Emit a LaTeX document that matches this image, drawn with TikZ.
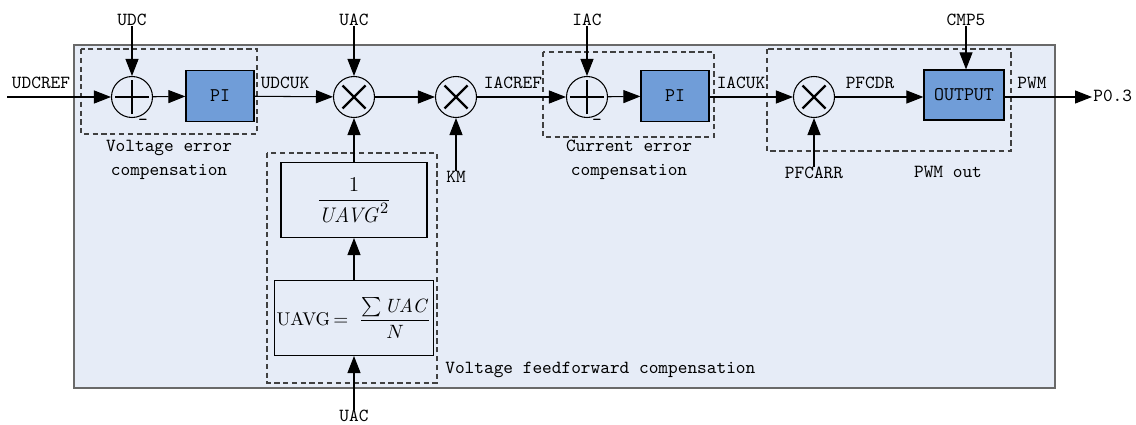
\documentclass[tikz,border=0pt]{standalone}
\usepackage{amsmath}
\usetikzlibrary{arrows.meta,positioning}
\definecolor{panelbg}{RGB}{230,236,247}
\definecolor{panelline}{RGB}{105,105,105}
\definecolor{blockfill}{RGB}{112,157,216}
\begin{document}
\begin{tikzpicture}[x=0.2mm,y=-0.2mm,
  sig/.style={-{Triangle[length=3.4mm,width=2.6mm]}, line width=0.6pt},
  lbl/.style={font=\ttfamily\fontsize{10.5}{13.6}\selectfont, inner sep=0pt},
  piblock/.style={draw, line width=0.7pt, fill=blockfill, minimum width=1.36cm,
    minimum height=1.02cm, font=\ttfamily\fontsize{11}{13}\selectfont},
  mathblock/.style={draw, line width=0.6pt, minimum width=2.92cm, minimum height=1.5cm,
    inner sep=2pt, font=\fontsize{13}{15}\selectfont},
  group/.style={draw=black!75, dashed, dash pattern=on 3pt off 2pt, line width=0.6pt},
  sumnode/.style={draw, circle, line width=0.6pt, minimum size=0.82cm, inner sep=0pt,
    path picture={
      \draw[line width=1.4pt] ([xshift=-3.4mm]path picture bounding box.center) -- ([xshift=3.4mm]path picture bounding box.center);
      \draw[line width=1.4pt] ([yshift=-3.4mm]path picture bounding box.center) -- ([yshift=3.4mm]path picture bounding box.center);}},
  mulnode/.style={draw, circle, line width=0.6pt, minimum size=0.82cm, inner sep=0pt,
    path picture={
      \draw[line width=1.3pt] ([shift={(-2.3mm,-2.3mm)}]path picture bounding box.center) -- ([shift={(2.3mm,2.3mm)}]path picture bounding box.center);
      \draw[line width=1.3pt] ([shift={(-2.3mm,2.3mm)}]path picture bounding box.center) -- ([shift={(2.3mm,-2.3mm)}]path picture bounding box.center);}}
]
  \useasboundingbox (0,0) rectangle (1136,425);
  % panel and groups
  \draw[panelline, fill=panelbg, line width=0.8pt] (74,45) rectangle (1055,388);
  \draw[group] (81,49) rectangle (257,134);
  \draw[group] (543,52) rectangle (714,137);
  \draw[group] (767,49) rectangle (1011,151);
  \draw[group] (267,153) rectangle (437,383);

  % blocks
  \node[sumnode] (sumU) at (132,97) {};
  \node[piblock] (piU) at (220,96) {PI};
  \node[mulnode] (mulUAC) at (354,97) {};
  \node[mulnode] (mulKM) at (456,97) {};
  \node[sumnode] (sumI) at (587,97) {};
  \node[piblock] (piI) at (675,96) {PI};
  \node[mulnode] (mulPFC) at (814,97) {};
  \node[piblock, minimum width=1.6cm, minimum height=1.0cm] (outp) at (964,95) {OUTPUT};
  \node[mathblock] (recip) at (354,200) {$\dfrac{1}{\mathit{UAVG}^{2}}$};
  \node[mathblock, inner sep=1pt, font=\fontsize{10.5}{13}\selectfont] (uavg) at (354,318) {UAVG$\,=\;\dfrac{\sum \mathit{UAC}}{N}$};

  % inputs
  \node[lbl] (udcref) at (41,83) {UDCREF};
  \node[lbl] (udc) at (132,20) {UDC};
  \node[lbl] (uacTop) at (354,20) {UAC};
  \node[lbl] (km) at (456,177) {KM};
  \node[lbl] (iac) at (587,20) {IAC};
  \node[lbl] (cmp) at (966,20) {CMP5};
  \node[lbl] (pfcarr) at (814,173) {PFCARR};
  \node[lbl] (uacBot) at (354,416) {UAC};
  \coordinate (inU) at (7,97);
  \coordinate (outP) at (1092,97);
  \node[lbl, anchor=west] (p03) at (1093,96) {P0.3};

  % signal labels
  \node[lbl] (udcuk) at (285,83) {UDCUK};
  \node[lbl] (iacref) at (513,83) {IACREF};
  \node[lbl] (iacuk) at (741,83) {IACUK};
  \node[lbl] (pfcdr) at (870,83) {PFCDR};
  \node[lbl] (pwm) at (1032,83) {PWM};
  \node[lbl] (minusU) at (143,122) {-};
  \node[lbl] (minusI) at (597,122) {-};

  % group captions
  \node[lbl, align=center] (capU) at (169,160) {Voltage error\\compensation};
  \node[lbl, align=center] (capI) at (629,160) {Current error\\compensation};
  \node[lbl] (capP) at (948,172) {PWM out};
  \node[lbl, anchor=west] (capF) at (445,370) {Voltage feedforward compensation};

  % connections
  \draw[sig] (inU) -- (sumU);
  \draw[sig] (udc) -- (sumU);
  \draw[sig] (sumU) -- (piU);
  \draw[sig] (piU) -- (mulUAC);
  \draw[sig] (uacTop) -- (mulUAC);
  \draw[sig] (recip) -- (mulUAC);
  \draw[sig] (uavg) -- (recip);
  \draw[sig] (uacBot) -- (uavg);
  \draw[sig] (mulUAC) -- (mulKM);
  \draw[sig] (km) -- (mulKM);
  \draw[sig] (mulKM) -- (sumI);
  \draw[sig] (iac) -- (sumI);
  \draw[sig] (sumI) -- (piI);
  \draw[sig] (piI.east |- sumI) -- (mulPFC);
  \draw[sig] (pfcarr) -- (mulPFC);
  \draw[sig] (mulPFC) -- (outp.west |- mulPFC);
  \draw[sig] (cmp) -- (cmp |- outp.north);
  \draw[sig] (outp.east |- mulPFC) -- (outP);
\end{tikzpicture}
\end{document}
